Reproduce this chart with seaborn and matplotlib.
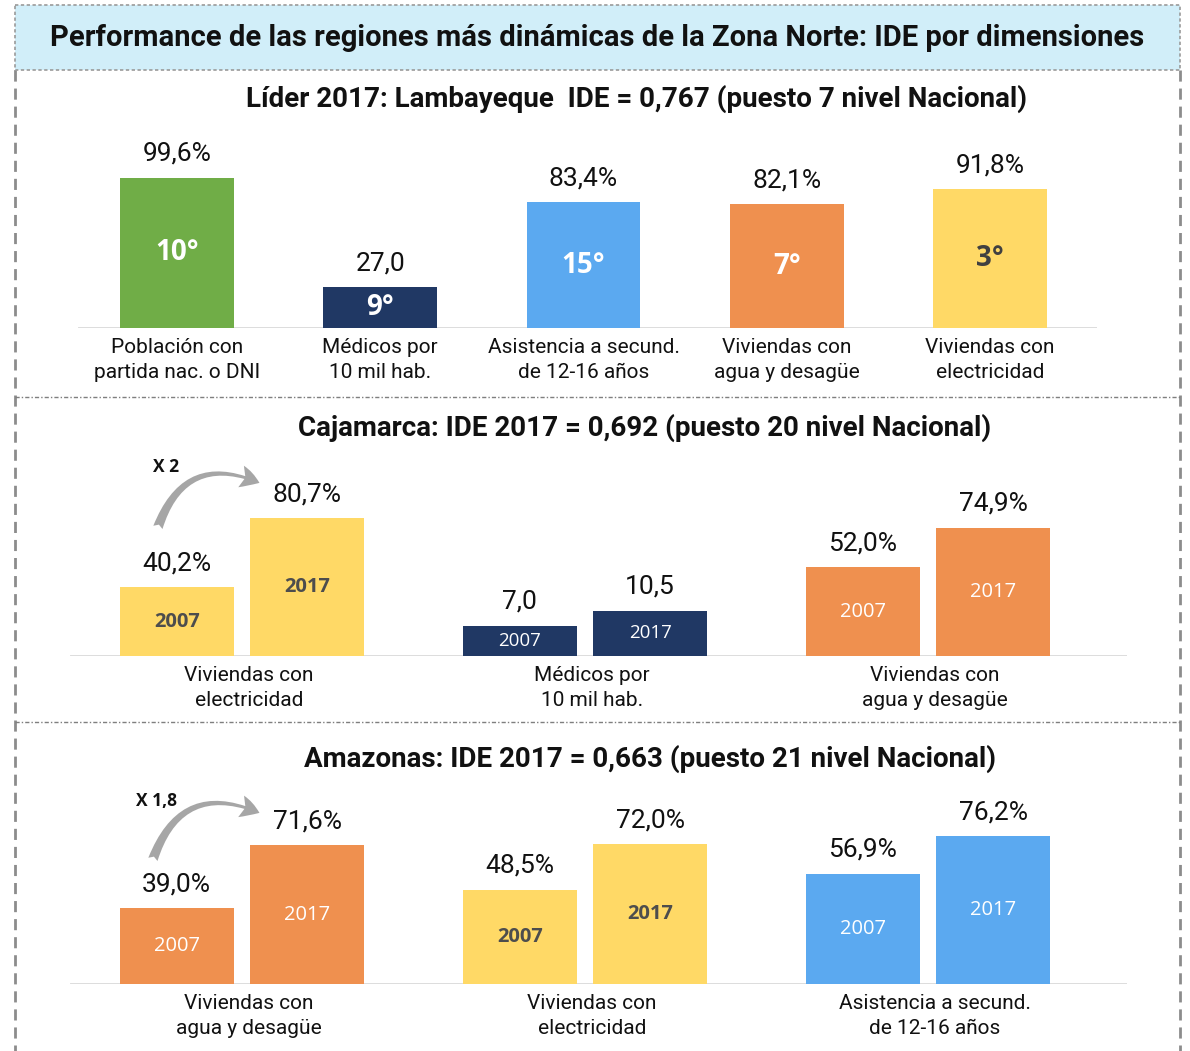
import matplotlib
matplotlib.use("Agg")
import matplotlib.pyplot as plt
from matplotlib.patches import Rectangle, FancyArrowPatch
import pandas as pd
import seaborn as sns

# ---------------- data ----------------
lider_titulo = "Líder 2017: Lambayeque  IDE = 0,767 (puesto 7 nivel Nacional)"
lider_indicadores = ["Población con\npartida nac. o DNI", "Médicos por\n10 mil hab.",
                     "Asistencia a secund.\nde 12-16 años", "Viviendas con\nagua y desagüe",
                     "Viviendas con\nelectricidad"]
lider_valores = [99.6, 27.0, 83.4, 82.1, 91.8]
lider_etiquetas = ["99,6%", "27,0", "83,4%", "82,1%", "91,8%"]
lider_puestos = ["10°", "9°", "15°", "7°", "3°"]

anios = ["2007", "2017"]

caj_titulo = "Cajamarca: IDE 2017 = 0,692 (puesto 20 nivel Nacional)"
caj_indicadores = ["Viviendas con\nelectricidad", "Médicos por\n10 mil hab.", "Viviendas con\nagua y desagüe"]
caj_2007 = [40.2, 7.0, 52.0]
caj_2017 = [80.7, 10.5, 74.9]
caj_etiq_2007 = ["40,2%", "7,0", "52,0%"]
caj_etiq_2017 = ["80,7%", "10,5", "74,9%"]
caj_factor = "X 2"

ama_titulo = "Amazonas: IDE 2017 = 0,663 (puesto 21 nivel Nacional)"
ama_indicadores = ["Viviendas con\nagua y desagüe", "Viviendas con\nelectricidad", "Asistencia a secund.\nde 12-16 años"]
ama_2007 = [39.0, 48.5, 56.9]
ama_2017 = [71.6, 72.0, 76.2]
ama_etiq_2007 = ["39,0%", "48,5%", "56,9%"]
ama_etiq_2017 = ["71,6%", "72,0%", "76,2%"]
ama_factor = "X 1,8"

titulo = "Performance de las regiones más dinámicas de la Zona Norte: IDE por dimensiones"

# ---------------- style ----------------
COLORES = {
    "Población con\npartida nac. o DNI": "#70AD47",
    "Médicos por\n10 mil hab.": "#203864",
    "Asistencia a secund.\nde 12-16 años": "#5BA9F0",
    "Viviendas con\nagua y desagüe": "#EF904F",
    "Viviendas con\nelectricidad": "#FFD966",
}
AMARILLO = "Viviendas con\nelectricidad"
GRIS_OSCURO = "#4D4D4D"
BASE = "#D9D9D9"

sns.set_theme(style="white")
plt.rcParams["font.family"] = ["Roboto", "DejaVu Sans"]

W, H = 1190, 1051
fig = plt.figure(figsize=(W / 100, H / 100), dpi=100)
fig.patch.set_facecolor("white")

# full-figure overlay in pixel coordinates for frame, titles and arrows
ov = fig.add_axes([0, 0, 1, 1])
ov.set_xlim(0, W)
ov.set_ylim(H, 0)
ov.axis("off")

ov.add_patch(Rectangle((15, 5), 1165, 65, facecolor="#D1EEF9", edgecolor="#9A9A9A",
                       lw=1.2, ls=(0, (2, 1.5))))
ov.text(597, 38, titulo, ha="center", va="center", fontsize=21, fontweight="bold", color="#111111")
for x in (15, 1180):
    ov.plot([x, x], [70, H], color="#8C8C8C", lw=2, ls=(0, (4, 2.5)))
for y in (397, 722):
    ov.plot([15, 1180], [y, y], color="#7F7F7F", lw=1, ls=(0, (3, 1.5, 1, 1.5)))

ov.text(637, 99, lider_titulo, ha="center", va="center", fontsize=20, fontweight="bold", color="#111111")
ov.text(645, 428, caj_titulo, ha="center", va="center", fontsize=20, fontweight="bold", color="#111111")
ov.text(650, 759, ama_titulo, ha="center", va="center", fontsize=20, fontweight="bold", color="#111111")


def px_axes(left, top, right, bottom):
    a = fig.add_axes([left / W, 1 - bottom / H, (right - left) / W, (bottom - top) / H])
    a.set_facecolor("none")
    return a


def clean(a):
    a.set_xticks([])
    a.set_yticks([])
    a.set_xlabel("")
    a.set_ylabel("")
    for s in a.spines.values():
        s.set_visible(False)


def bars(a, pos, vals, keys, width):
    df = pd.DataFrame({"pos": pos, "valor": vals, "indicador": keys})
    sns.barplot(data=df, x="pos", y="valor", hue="indicador", palette=COLORES,
                native_scale=True, dodge=False, width=width, saturation=1,
                errorbar=None, legend=False, linewidth=0, ax=a)


def value_labels(a, pos, vals, texts):
    for p, v, t in zip(pos, vals, texts):
        a.annotate(t, xy=(p, v), xytext=(0, 24), textcoords="offset pixels",
                   ha="center", va="center", fontsize=19, color="#111111")


def inner_labels(a, pos, vals, texts, keys, size=14.5, bold=False):
    for p, v, t, k in zip(pos, vals, texts, keys):
        yellow = k == AMARILLO
        a.text(p, v / 2, t, ha="center", va="center", fontsize=size,
               family=["Open Sans", "DejaVu Sans"],
               fontweight="bold" if (bold or yellow) else "normal",
               color=GRIS_OSCURO if yellow else "white")


def category_labels(a, pos, labels, dy=-10):
    for p, t in zip(pos, labels):
        a.annotate(t, xy=(p, 0), xytext=(0, dy), textcoords="offset pixels",
                   ha="center", va="top", fontsize=15, linespacing=1.42, color="#111111")


# ---------------- panel 1: Lambayeque ----------------
ax1 = px_axes(78, 130, 1097, 328)
pos1 = list(range(len(lider_valores)))
bars(ax1, pos1, lider_valores, lider_indicadores, 0.56)
ax1.set_ylim(0, 198 / 1.51)
ax1.set_xlim(-0.487, 4.526)
ax1.axhline(0, color=BASE, lw=2, zorder=0)
value_labels(ax1, pos1, lider_valores, lider_etiquetas)
inner_labels(ax1, pos1, lider_valores, lider_puestos, lider_indicadores, size=20, bold=True)
ax1.texts[-1].set_color("#404040")
category_labels(ax1, pos1, lider_indicadores)
clean(ax1)

# ---------------- paired panels ----------------
OFF = 0.19


def paired_panel(top, bottom, v07, v17, e07, e17, cats, scale, med_scale=None):
    a = px_axes(70, top, 1127, bottom)
    hpx = bottom - top
    a2 = None
    if med_scale is not None:
        a2 = a.twinx()
        a2.set_facecolor("none")
    groups = {id(a): ([], [], [], [])}
    if a2 is not None:
        groups[id(a2)] = ([], [], [], [])
    for g, c in enumerate(cats):
        tgt = a2 if (a2 is not None and c.startswith("Médicos")) else a
        P, V, K, T = groups[id(tgt)]
        for off, v, t in ((-OFF, v07[g], e07[g]), (OFF, v17[g], e17[g])):
            P.append(g + off)
            V.append(v)
            K.append(c)
            T.append(t)
    for tgt in [a] + ([a2] if a2 is not None else []):
        P, V, K, T = groups[id(tgt)]
        bars(tgt, P, V, K, 0.875)
        tgt.set_ylim(0, hpx / (med_scale if tgt is a2 else scale))
        value_labels(tgt, P, V, T)
        years = anios * (len(P) // 2)
        inner_labels(tgt, P, V, years, K, size=13.5 if tgt is a2 else 14.5)
    if a2 is not None:
        clean(a2)
    a.set_xlim(-0.501, 2.580)
    a.axhline(0, color=BASE, lw=2, zorder=0)
    category_labels(a, [g + 0.02 for g in range(len(cats))], cats)
    clean(a)
    return a


paired_panel(460, 656, caj_2007, caj_2017, caj_etiq_2007, caj_etiq_2017,
             caj_indicadores, 1.71, med_scale=4.33)
paired_panel(790, 984, ama_2007, ama_2017, ama_etiq_2007, ama_etiq_2017,
             ama_indicadores, 1.94)

# growth arrows with multipliers
for (x0, y0), (x1, y1), (tx, ty), txt in (
        ((157, 530), (262, 484), (166, 467), caj_factor),
        ((152, 862), (262, 814), (157, 801), ama_factor)):
    ov.add_patch(FancyArrowPatch((x0, y0), (x1, y1), connectionstyle="arc3,rad=-0.55",
                                 arrowstyle="fancy,head_length=0.7,head_width=0.8,tail_width=0.35",
                                 mutation_scale=20, color="#A6A6A6", lw=0))
    ov.text(tx, ty, txt, ha="center", va="center", fontsize=12.5, fontweight="bold",
            family=["Open Sans", "DejaVu Sans"], color="#111111")

fig.savefig("out.png", dpi=100, facecolor="white")
